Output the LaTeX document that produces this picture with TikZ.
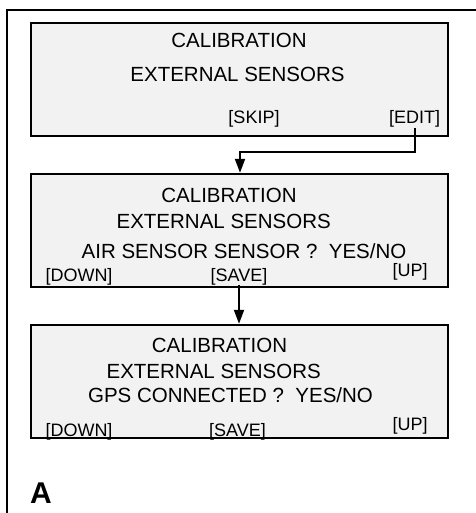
\documentclass[tikz,border=0pt]{standalone}
\usepackage{fontspec}
\setmainfont{Liberation Sans}
\usetikzlibrary{arrows.meta, positioning}
\definecolor{lcdgray}{gray}{0.95}
\tikzstyle{screen}=[draw,fill=lcdgray,rectangle,line width=2.4pt,minimum width=417pt,minimum height=113pt,inner sep=0pt]
\tikzstyle{txt}=[font=\fontsize{20.5}{24}\selectfont,anchor=base,inner sep=0pt]
\tikzstyle{btn}=[font=\fontsize{18}{22}\selectfont,anchor=base,inner sep=0pt]
\tikzstyle{link}=[line width=2pt,->]

\begin{document}
\begin{tikzpicture}[x=1pt,y=-1pt,>={Triangle[length=14pt,width=10pt]}]
    \useasboundingbox (0,0) rectangle (475,513);
    \draw[line width=2.6pt] (7,530) |- (490,10);
    % first screen
    \node[screen] (scr1) at (239.5,79.5) {};
    \node[txt] (cal1) at (239,48) {CALIBRATION};
    \node[txt] (ext1) at (237.5,82) {EXTERNAL SENSORS};
    \node[btn] (skip1) at (254,124) {[SKIP]};
    \node[btn] (edit1) at (414.5,124) {[EDIT]};
    % second screen
    \node[screen] (scr2) at (239.5,230.5) {};
    \node[txt] (cal2) at (229,202) {CALIBRATION};
    \node[txt] (ext2) at (223.7,228) {EXTERNAL SENSORS};
    \node[txt] (air2) at (244,258) {AIR SENSOR SENSOR ?\ \ YES/NO};
    \node[btn] (down2) at (79,281) {[DOWN]};
    \node[btn] (save2) at (239,281) {[SAVE]};
    \node[btn] (up2) at (410,276) {[UP]};
    % third screen
    \node[screen] (scr3) at (239.5,381.5) {};
    \node[txt] (cal3) at (219.5,352) {CALIBRATION};
    \node[txt] (ext3) at (213.7,378) {EXTERNAL SENSORS};
    \node[txt] (gps3) at (230.5,402) {GPS CONNECTED ?\ \ YES/NO};
    \node[btn] (down3) at (79,436) {[DOWN]};
    \node[btn] (save3) at (237.5,436) {[SAVE]};
    \node[btn] (up3) at (410,430) {[UP]};
    \node[font=\fontsize{30}{34}\selectfont\bfseries,anchor=base west,inner sep=0pt] (lbl) at (30,503) {A};
    % links
    \coordinate (elbow) at (240,152);
    \draw[link] (edit1.south) |- (elbow) -- (elbow |- scr2.north);
    \draw[link] (save2.south) -- (save2.south |- scr3.north);
\end{tikzpicture}
\end{document}
